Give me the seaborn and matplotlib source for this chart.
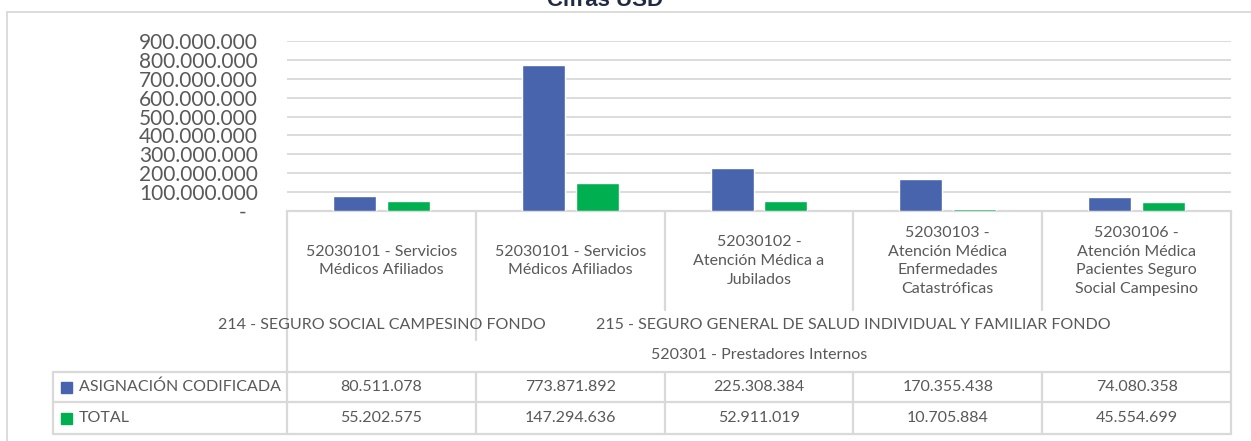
import matplotlib
matplotlib.use("Agg")
import matplotlib.pyplot as plt
from matplotlib.lines import Line2D
from matplotlib.ticker import FuncFormatter
import seaborn as sns
import pandas as pd

# ---- data ----
categories = [
    "52030101 - Servicios\nMédicos Afiliados",
    "52030101 - Servicios\nMédicos Afiliados",
    "52030102 -\nAtención Médica a\nJubilados",
    "52030103 -\nAtención Médica\nEnfermedades\nCatastróficas",
    "52030106 -\nAtención Médica\nPacientes Seguro\nSocial Campesino",
]
fondos = ["214 - SEGURO SOCIAL CAMPESINO FONDO",
          "215 - SEGURO GENERAL DE SALUD INDIVIDUAL Y FAMILIAR FONDO"]
fondo_span = [1, 4]
grupo = "520301 - Prestadores Internos"
series_names = ["ASIGNACIÓN CODIFICADA", "TOTAL"]
asignacion = [80511078, 773871892, 225308384, 170355438, 74080358]
total = [55202575, 147294636, 52911019, 10705884, 45554699]
colors = ["#4864AC", "#00B050"]
title = "Cifras USD"

W, H = 1251, 441
keys = [f"c{i}" for i in range(len(categories))]
df = pd.DataFrame({
    "key": keys * 2,
    "serie": [series_names[0]] * 5 + [series_names[1]] * 5,
    "valor": asignacion + total,
})

sns.set_theme(style="white")
plt.rcParams["font.family"] = ["Lato", "DejaVu Sans"]
TXT = "#595959"
LINE = "#d9d9d9"

fig = plt.figure(figsize=(W / 100, H / 100), dpi=100)


def fx(x):
    return x / W


def fy(y):
    return 1 - y / H


ax_left, ax_right, ax_top, ax_bot = 287, 1231, 41, 211
ax = fig.add_axes([fx(ax_left), fy(ax_bot), (ax_right - ax_left) / W, (ax_bot - ax_top) / H])
ax.set_zorder(1)
ax.patch.set_alpha(0)
sns.barplot(data=df, x="key", y="valor", hue="serie", order=keys,
            palette=colors, width=0.57, gap=0.2, ax=ax, legend=False,
            saturation=1)
ax.set_ylim(0, 9e8)
ax.set_xlim(-0.5, len(keys) - 0.5)
ax.set_yticks([i * 1e8 for i in range(10)])
ax.yaxis.set_major_formatter(FuncFormatter(
    lambda v, p: "-  " if v == 0 else f"{int(v):,}".replace(",", ".")))
ax.tick_params(axis="y", labelsize=15, labelcolor=TXT, length=0, pad=21)
ax.set_xticks([])
ax.set_xlabel("")
ax.set_ylabel("")
for s in ax.spines.values():
    s.set_visible(False)
ax.yaxis.grid(True, color=LINE, linewidth=1.3)
ax.set_axisbelow(True)

# ---- table geometry derived from axis scale ----
fig.canvas.draw()
inv = fig.transFigure.inverted()


def col_x(v):
    return inv.transform(ax.transData.transform((v, 0)))[0]


edges = [col_x(i - 0.5) for i in range(len(categories) + 1)]
centers = [col_x(i) for i in range(len(categories))]

lw = 1.6


def hline(x0, x1, y, z=0):
    fig.add_artist(Line2D([x0, x1], [fy(y), fy(y)], color=LINE, lw=lw,
                          transform=fig.transFigure, zorder=z))


def vline(x, y0, y1):
    fig.add_artist(Line2D([x, x], [fy(y0), fy(y1)], color=LINE, lw=lw,
                          transform=fig.transFigure, zorder=0))


# outer chart frame
fig.add_artist(Line2D([fx(7), fx(W)], [fy(12), fy(12)], color=LINE, lw=1.3,
                      transform=fig.transFigure))
fig.add_artist(Line2D([fx(7), fx(7)], [fy(12), fy(H)], color=LINE, lw=1.3,
                      transform=fig.transFigure))

fig.text(0.484, fy(6), title, ha="center", va="baseline", fontsize=16,
         fontweight="bold", color="#1f2a44", family=["Liberation Sans", "DejaVu Sans"])

# category area
hline(edges[0], edges[-1], 211, z=0)
for i, e in enumerate(edges):
    if i == 0 or i == len(edges) - 1:
        vline(e, 211, 434)
    elif i == fondo_span[0]:
        vline(e, 211, 340)
    else:
        vline(e, 211, 310)

for c, lab in zip(centers, categories):
    fig.text(c, fy(261), lab, ha="center", va="center", fontsize=11.5,
             color=TXT, linespacing=1.45)

# fondo row
start = 0
for name, n in zip(fondos, fondo_span):
    cx = (edges[start] + edges[start + n]) / 2
    fig.text(cx, fy(325), name, ha="center", va="center", fontsize=11.5, color=TXT)
    start += n

fig.text((edges[0] + edges[-1]) / 2, fy(355), grupo, ha="center", va="center",
         fontsize=11.5, color=TXT)

# data table
tab_left = fx(53)
rows_y = [372, 402, 434]
for y in rows_y:
    hline(tab_left, edges[-1], y)
vline(tab_left, 372, 434)
for e in edges[1:-1]:
    vline(e, 372, 434)

for r, (name, vals, col) in enumerate(zip(series_names, [asignacion, total], colors)):
    yc = (rows_y[r] + rows_y[r + 1]) / 2
    fig.patches.append(plt.Rectangle((fx(61), fy(yc + 5.5)), 11 / W, 11 / H,
                                     transform=fig.transFigure, color=col))
    fig.text(fx(79), fy(yc), name, ha="left", va="center", fontsize=11.5, color=TXT)
    for c, v in zip(centers, vals):
        fig.text(c, fy(yc), f"{v:,}".replace(",", "."), ha="center", va="center",
                 fontsize=11.5, color=TXT)

fig.savefig("out.png", dpi=100)
